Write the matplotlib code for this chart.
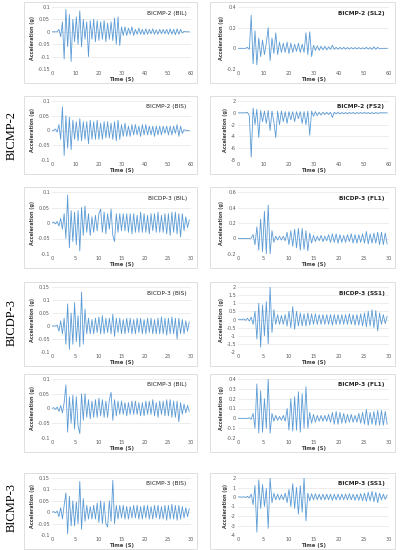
import matplotlib
matplotlib.use("Agg")
import matplotlib.pyplot as plt
import numpy as np
from matplotlib.patches import Rectangle

# ---- data (peak values, g) ----
t60 = np.arange(0, 60, 0.75)
t30 = np.arange(0, 30, 0.375)

bicmp2_bil = [0,0,0,0, 0.01,-0.02,0.04,-0.11, 0.09,-0.06,0.07,-0.12, 0.05,-0.04,0.06,-0.05,
              0.085,-0.06,0.05,-0.03, 0.04,-0.1,0.045,-0.03, 0.05,-0.04,0.045,-0.035,
              0.04,-0.03,0.045,-0.04, 0.035,-0.03,0.04,-0.035, 0.055,-0.05,0.06,-0.055,
              0.02,-0.015,0.02,-0.015, 0.015,-0.01,0.02,-0.015, 0.01,-0.01,0.015,-0.01,
              0.01,-0.012,0.012,-0.01, 0.01,-0.008,0.012,-0.01, 0.008,-0.01,0.01,-0.008,
              0.01,-0.008,0.01,-0.01, 0.012,-0.01,0.01,-0.012, 0.012,-0.01,0.01,-0.005,
              0.002,0,0,0]
bicmp2_sl2 = [0,0,0,0, 0,0.01,-0.01,0.32, -0.15,0.17,-0.16,0.1, -0.08,0.08,-0.06,0.05,
              0.2,-0.12,0.1,-0.05, 0.15,-0.06,0.06,-0.04, 0.05,-0.04,0.06,-0.05,
              0.05,-0.04,0.04,-0.03, 0.05,-0.04,0.04,-0.04, 0.15,-0.06,0.16,-0.08,
              0.03,-0.02,0.025,-0.02, 0.02,-0.015,0.02,-0.015, 0.015,-0.01,0.03,-0.01,
              0.01,-0.01,0.01,-0.008, 0.01,-0.008,0.008,-0.008, 0.008,-0.006,0.008,-0.006,
              0.008,-0.006,0.006,-0.006, 0.01,-0.008,0.008,-0.01, 0.015,-0.01,0.01,-0.005,
              0,0,0,0]
bicmp2_bis = [0,0,0.005,-0.005, 0.02,-0.03,0.08,-0.085, 0.05,-0.06,0.045,-0.065,
              0.035,-0.03,0.03,-0.035, 0.04,-0.035,0.03,-0.03, 0.03,-0.045,0.035,-0.03,
              0.03,-0.03,0.035,-0.03, 0.025,-0.03,0.03,-0.025, 0.03,-0.025,0.025,-0.03,
              0.03,-0.035,0.035,-0.03, 0.02,-0.02,0.025,-0.02, 0.015,-0.02,0.02,-0.015,
              0.02,-0.015,0.015,-0.02, 0.02,-0.015,0.02,-0.015, 0.015,-0.015,0.015,-0.02,
              0.015,-0.015,0.015,-0.015, 0.015,-0.01,0.015,-0.015, 0.015,-0.015,0.015,-0.01,
              0.02,-0.02,0.015,-0.01, 0.003,0,0,0]
bicmp2_fs2 = [0,0,0,0, 0,0.1,-0.5,-7.5, 0.8,-2,0.6,-4.2, 0.4,-1.5,0.3,-1.8,
              0.4,-3,0.3,-1.5, -4.2,0.3,-2,0.3, -1.5,0.2,-1.8,0.2, -1.2,0.2,-1.5,0.2,
              -1,0.2,-1.8,0.2, -2,0.3,-3.8,0.3, -0.6,0.2,-0.5,0.1, -0.4,0.1,-0.3,0.1,
              -0.3,0.1,-0.8,0.1, -0.2,0.1,-0.2,0.05, -0.15,0.05,-0.15,0.05, -0.1,0.05,-0.15,0.05,
              -0.1,0.05,-0.1,0.05, -0.1,0.05,-0.15,0.05, -0.15,0.05,-0.1,0, 0,0,0,0]
bicdp3_bil = [0,0.003,-0.003,0.005, -0.01,0.015,-0.02,0.03, -0.05,0.09,-0.08,0.04,
              -0.06,0.035,-0.07,0.04, -0.09,0.05,-0.04,0.055, -0.03,0.03,-0.04,0.02,
              -0.03,0.025,-0.025,0.03, 0.045,-0.03,0.035,-0.035, 0.03,-0.02,0.045,-0.04,
              -0.06,0.03,-0.03,0.03, -0.025,0.03,-0.025,0.03, -0.03,0.03,-0.035,0.03,
              -0.03,0.025,-0.03,0.035, -0.03,0.03,-0.03,0.025, -0.035,0.03,-0.025,0.03,
              -0.03,0.035,-0.03,0.025, -0.03,0.03,-0.035,0.03, -0.04,0.035,-0.03,0.035,
              -0.035,0.03,-0.045,0.03, -0.025,0.02,-0.015,0.01]
bicdp3_fl1 = [0,0,0,0, 0,0,0,0.005, 0.05,-0.08,0.15,-0.15, 0.25,-0.17,0.35,-0.2,
              0.43,-0.2,0.1,-0.05, 0.03,-0.02,0.03,-0.02, 0.03,-0.03,0.08,-0.08,
              0.1,-0.1,0.12,-0.12, 0.13,-0.15,0.13,-0.14, 0.1,-0.16,0.07,-0.06,
              0.04,-0.04,0.03,-0.03, 0.04,-0.04,0.03,-0.03, 0.05,-0.05,0.06,-0.05,
              0.06,-0.06,0.05,-0.05, 0.04,-0.05,0.05,-0.04, 0.06,-0.06,0.05,-0.06,
              0.05,-0.05,0.06,-0.06, 0.09,-0.07,0.06,-0.06, 0.07,-0.06,0.08,-0.08,
              0.08,-0.08,0.07,-0.07]
bicdp3_bis = [0,0,0,0.003, -0.02,0.02,-0.03,0.03, -0.07,0.085,-0.09,0.05,
              -0.07,0.09,-0.06,0.04, -0.08,0.13,-0.07,0.065, -0.03,0.03,-0.03,0.025,
              -0.03,0.03,-0.025,0.035, -0.03,0.04,-0.03,0.03, -0.025,0.03,-0.03,0.045,
              -0.04,0.03,-0.025,0.03, -0.03,0.025,-0.03,0.03, -0.025,0.03,-0.03,0.025,
              -0.03,0.03,-0.025,0.03, -0.03,0.025,-0.03,0.03, -0.025,0.03,-0.03,0.025,
              -0.03,0.03,-0.03,0.035, -0.03,0.03,-0.035,0.03, -0.03,0.035,-0.03,0.03,
              -0.05,0.03,-0.03,0.025, -0.03,0.02,-0.02,0.015]
bicdp3_ss1 = [0,0.02,-0.02,0.03, -0.05,0.08,-0.1,0.15, -0.3,0.5,-1.2,1.0,
              -1.7,0.9,-1.0,1.1, -1.5,2.0,-0.8,0.6, -0.3,0.3,-0.3,0.25,
              -0.3,0.3,-0.4,0.5, -0.5,0.8,-0.6,0.5, -0.4,0.4,-0.4,0.35,
              -0.4,0.4,-0.35,0.35, -0.3,0.35,-0.3,0.3, -0.3,0.3,-0.3,0.3,
              -0.3,0.3,-0.35,0.3, -0.3,0.3,-0.3,0.3, -0.3,0.3,-0.3,0.35,
              -0.3,0.3,-0.35,0.3, -0.35,0.35,-0.4,0.4, -0.45,0.5,-0.4,0.6,
              -0.5,0.55,-0.7,0.4, -0.3,0.3,-0.25,0.2]
bicmp3_bil = [0,0.003,-0.003,0.005, -0.01,0.01,-0.015,0.02, 0.08,-0.08,0.04,-0.05,
              0.045,-0.07,0.04,-0.06, -0.085,0.05,-0.04,0.05, -0.03,0.03,-0.035,0.025,
              -0.03,0.03,-0.03,0.035, -0.025,0.03,-0.03,0.025, -0.03,0.03,0.055,-0.04,
              0.03,-0.025,0.025,-0.02, 0.025,-0.02,0.02,-0.025, 0.02,-0.02,0.025,-0.02,
              0.025,-0.02,0.02,-0.025, 0.02,-0.025,0.025,-0.02, 0.025,-0.02,0.03,-0.025,
              0.02,-0.03,0.025,-0.02, 0.025,-0.025,0.03,-0.025, 0.03,-0.03,0.025,-0.03,
              0.025,-0.045,0.02,-0.02, 0.015,-0.015,0.01,-0.01]
bicmp3_fl1 = [0,0,0,0, 0,0,0.005,-0.01, 0.05,-0.1,0.35,-0.15, 0.28,-0.14,0.2,-0.1,
              0.4,-0.15,0.05,-0.03, 0.03,-0.02,0.02,-0.02, 0.03,-0.03,0.1,-0.12,
              0.2,-0.13,0.22,-0.12, 0.27,-0.14,0.25,-0.1, 0.32,-0.1,0.06,-0.05,
              0.04,-0.04,0.03,-0.03, 0.03,-0.03,0.03,-0.03, 0.04,-0.04,0.06,-0.06,
              0.07,-0.06,0.06,-0.05, 0.05,-0.05,0.04,-0.04, 0.04,-0.04,0.03,-0.04,
              0.05,-0.05,0.06,-0.06, 0.09,-0.07,0.06,-0.06, 0.07,-0.07,0.08,-0.07,
              0.08,-0.07,0.07,-0.06]
bicmp3_bis = [0,0.003,-0.003,0.005, -0.02,0.02,-0.03,0.03, 0.085,-0.095,0.07,-0.06,
              0.05,-0.06,0.045,-0.05, 0.135,-0.075,0.06,-0.04, 0.03,-0.03,0.025,-0.03,
              0.03,-0.03,0.04,-0.045, 0.05,-0.05,0.045,-0.05, -0.065,0.05,-0.04,0.14,
              -0.05,0.03,-0.03,0.03, -0.025,0.03,-0.03,0.025, -0.03,0.025,-0.025,0.03,
              -0.025,0.03,-0.03,0.025, -0.03,0.03,-0.025,0.03, -0.03,0.025,-0.03,0.03,
              -0.025,0.03,-0.03,0.025, -0.03,0.03,-0.035,0.03, -0.03,0.035,-0.03,0.03,
              -0.035,0.03,-0.03,0.025, -0.025,0.02,-0.02,0.015]
bicmp3_ss1 = [0,0.02,-0.02,0.03, -0.05,0.08,-0.1,0.3, -0.8,1.2,-3.7,1.8,
              -1.2,1.3,-1.0,0.9, -3.3,2.0,-0.6,0.4, -0.3,0.3,-0.3,0.25,
              -0.3,0.4,-0.6,0.8, -1.0,1.4,-1.2,1.0, -1.8,1.2,-1.6,2.0,
              -2.5,0.4,-0.4,0.35, -0.3,0.35,-0.3,0.3, -0.3,0.3,-0.3,0.3,
              -0.3,0.3,-0.35,0.3, -0.3,0.3,-0.3,0.3, -0.3,0.3,-0.3,0.35,
              -0.3,0.3,-0.35,0.3, -0.35,0.35,-0.4,0.4, -0.45,0.5,-0.4,0.6,
              -0.5,0.5,-0.6,0.4, -0.3,0.3,-0.25,0.2]

titles = ['BICMP-2 (BIL)', 'BICMP-2 (SL2)', 'BICMP-2 (BIS)', 'BICMP-2 (FS2)',
          'BICDP-3 (BIL)', 'BICDP-3 (FL1)', 'BICDP-3 (BIS)', 'BICDP-3 (SS1)',
          'BICMP-3 (BIL)', 'BICMP-3 (FL1)', 'BICMP-3 (BIS)', 'BICMP-3 (SS1)']
series = [bicmp2_bil, bicmp2_sl2, bicmp2_bis, bicmp2_fs2,
          bicdp3_bil, bicdp3_fl1, bicdp3_bis, bicdp3_ss1,
          bicmp3_bil, bicmp3_fl1, bicmp3_bis, bicmp3_ss1]
times = [t60] * 4 + [t30] * 8
yticks = [[-0.15, -0.1, -0.05, 0, 0.05, 0.1], [-0.2, 0, 0.2, 0.4],
          [-0.1, -0.05, 0, 0.05, 0.1], [-8, -6, -4, -2, 0, 2],
          [-0.1, -0.05, 0, 0.05, 0.1], [-0.2, 0, 0.2, 0.4, 0.6],
          [-0.1, -0.05, 0, 0.05, 0.1, 0.15], [-2, -1.5, -1, -0.5, 0, 0.5, 1, 1.5, 2],
          [-0.1, -0.05, 0, 0.05, 0.1], [-0.2, -0.1, 0, 0.1, 0.2, 0.3, 0.4],
          [-0.1, -0.05, 0, 0.05, 0.1, 0.15], [-4, -3, -2, -1, 0, 1, 2]]
row_labels = ['BICMP-2', 'BICDP-3', 'BICMP-3']

W, H = 402, 550
fig = plt.figure(figsize=(W / 100, H / 100), dpi=100)
blue = '#5b9bd5'

# axes extents in pixels (top, bottom) per row
rows_px = [(7, 69), (101, 160), (192, 254), (287, 352), (379, 438), (478, 535)]
cols_px = [(52, 191), (238, 389)]

for i, (title, vals, t, yt) in enumerate(zip(titles, series, times, yticks)):
    r, c = divmod(i, 2)
    top, bot = rows_px[r]
    x0, x1 = cols_px[c]
    # grey frame around each chart
    bx0, bx1 = x0 - 28, x1 + 6
    fig.add_artist(Rectangle((bx0 / W, 1 - (bot + 14) / H), (bx1 - bx0) / W, (bot + 19 - top) / H,
                             transform=fig.transFigure, fill=False, ec='#d9d9d9', lw=0.6))
    ax = fig.add_axes([x0 / W, 1 - bot / H, (x1 - x0) / W, (bot - top) / H])
    ax.plot(t, vals, color=blue, lw=0.6)
    ax.set_xlim(0, t[-1] + (t[1] - t[0]))
    ax.set_ylim(yt[0], yt[-1])
    ax.set_yticks(yt)
    ax.set_yticklabels([f'{v:g}' for v in yt])
    step = 10 if t[-1] > 40 else 5
    ax.set_xticks(np.arange(0, ax.get_xlim()[1] + 0.1, step))
    ax.tick_params(labelsize=3.5, colors='#595959', length=0, pad=1.5)
    ax.grid(axis='y', color='#e0e0e0', lw=0.4)
    for s in ax.spines.values():
        s.set_visible(False)
    ax.set_ylabel('Acceleration (g)', fontsize=3.5, fontweight='bold', color='#404040', labelpad=2)
    ax.set_xlabel('Time (S)', fontsize=3.8, fontweight='bold', color='#404040', labelpad=0.5)
    ax.text(0.97, 0.9, title, transform=ax.transAxes, ha='right', va='center',
            fontsize=4.2, fontweight='bold' if c == 1 else 'normal', color='#262626')

for lbl, y in zip(row_labels, [135, 322, 508]):
    fig.text(12 / W, 1 - y / H, lbl, rotation=90, ha='center', va='center',
             fontsize=9, family='Liberation Serif')

fig.savefig('out.png', dpi=100)
